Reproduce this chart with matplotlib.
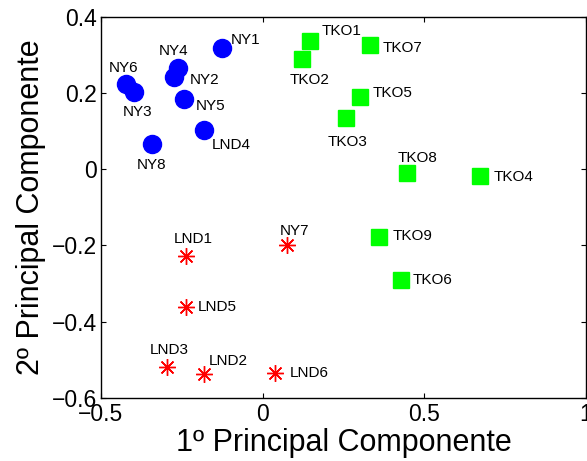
import matplotlib
matplotlib.use("Agg")
import matplotlib.pyplot as plt

plt.rcParams['font.family'] = ['Liberation Sans', 'DejaVu Sans']

# group NY (blue circles)
ny_names = ["NY1", "NY2", "NY3", "NY4", "NY5", "NY6", "NY8", "LND4"]
ny_x = [-0.125, -0.273, -0.398, -0.263, -0.244, -0.423, -0.343, -0.180]
ny_y = [0.317, 0.242, 0.203, 0.264, 0.183, 0.223, 0.066, 0.103]

# group TKO (green squares)
tko_names = ["TKO1", "TKO2", "TKO3", "TKO4", "TKO5", "TKO6", "TKO7", "TKO8", "TKO9"]
tko_x = [0.148, 0.122, 0.258, 0.674, 0.301, 0.427, 0.331, 0.448, 0.360]
tko_y = [0.337, 0.290, 0.134, -0.017, 0.189, -0.290, 0.326, -0.011, -0.178]

# group LND (red asterisks)
lnd_names = ["LND1", "LND2", "LND3", "LND5", "LND6", "NY7"]
lnd_x = [-0.237, -0.180, -0.296, -0.237, 0.037, 0.074]
lnd_y = [-0.229, -0.538, -0.518, -0.362, -0.534, -0.199]

x_ticks = [-0.5, 0, 0.5, 1]
y_ticks = [-0.6, -0.4, -0.2, 0, 0.2, 0.4]

# label placement: (dx, dy) in pixels, horizontal alignment
label_pos = {
    "NY1": (9, 8, "left"), "NY2": (15, -3, "left"), "NY3": (4, -20, "center"),
    "NY4": (-4, 17, "center"), "NY5": (12, -7, "left"), "NY6": (-2, 16, "center"),
    "NY7": (8, 14, "center"), "NY8": (0, -21, "center"),
    "LND1": (7, 17, "center"), "LND2": (4, 13, "left"), "LND3": (2, 17, "center"),
    "LND4": (7, -15, "left"), "LND5": (12, 0, "left"), "LND6": (15, 0, "left"),
    "TKO1": (11, 10, "left"), "TKO2": (8, -21, "center"), "TKO3": (2, -24, "center"),
    "TKO4": (13, -1, "left"), "TKO5": (13, 4, "left"), "TKO6": (12, 0, "left"),
    "TKO7": (13, -3, "left"), "TKO8": (10, 15, "center"), "TKO9": (14, 1, "left"),
}

fig = plt.figure(figsize=(5.87, 4.61), dpi=100)
ax = fig.add_axes([0.172, 0.137, 0.826, 0.827])

ax.plot(ny_x, ny_y, 'o', color=(0, 0, 1), markersize=13, linestyle='none')
ax.plot(tko_x, tko_y, 's', color=(0, 1, 0), markersize=11, linestyle='none')
ax.plot(lnd_x, lnd_y, marker=(8, 2, 0), color='red', markersize=12,
        markeredgewidth=1.0, linestyle='none')

for names, xs, ys in [(ny_names, ny_x, ny_y), (tko_names, tko_x, tko_y),
                      (lnd_names, lnd_x, lnd_y)]:
    for n, x, y in zip(names, xs, ys):
        dx, dy, ha = label_pos[n]
        ax.annotate(n, (x, y), xytext=(dx, dy), textcoords='offset pixels',
                    ha=ha, va='center', fontsize=11)

ax.set_xlim(-0.5, 1)
ax.set_ylim(-0.6, 0.4)
ax.set_xticks(x_ticks)
ax.set_xticklabels(["\u22120.5", "0", "0.5", "1"])
ax.set_yticks(y_ticks)
ax.set_yticklabels(["\u22120.6", "\u22120.4", "\u22120.2", "0", "0.2", "0.4"])
ax.tick_params(direction='in', top=True, right=True, length=3.5, width=0.8,
               labelsize=16.5)
ax.tick_params(axis='y', pad=3)
ax.set_xlabel("1º Principal Componente", fontsize=22, labelpad=2)
ax.set_ylabel("2º Principal Componente", fontsize=22, labelpad=4)
for s in ax.spines.values():
    s.set_linewidth(1.0)

fig.savefig("out.png", dpi=100)
